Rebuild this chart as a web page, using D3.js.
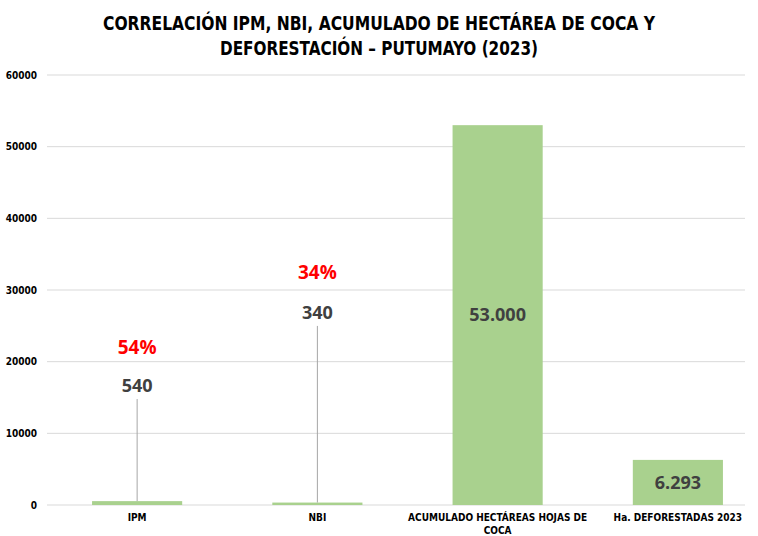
<!DOCTYPE html>
<html>
<head>
<meta charset="utf-8">
<script src="https://cdn.jsdelivr.net/npm/d3@7"></script>
<style>
  body { margin: 0; background: #fff; }
  svg text { font-family: "DejaVu Sans Condensed", "Open Sans", sans-serif; }
</style>
</head>
<body>
<div id="chart"></div>
<script>
// data
var categories = ["IPM", "NBI", "ACUMULADO HECTÁREAS HOJAS DE COCA", "Ha. DEFORESTADAS 2023"];
var values = [540, 340, 53000, 6293];
var valueLabels = ["540", "340", "53.000", "6.293"];
var percentLabels = ["54%", "34%", "", ""];
// where the callout labels sit, in axis units (0 = inside the bar)
var calloutAt = [16600, 26800, 0, 0];
var percentAt = [22000, 32500, 0, 0];
var yTicks = [0, 10000, 20000, 30000, 40000, 50000, 60000];

drawBarChart();
function drawBarChart(){
    var W = 758, H = 536;
    var margin = {top: 75, right: 0, bottom: 31, left: 47};
    var width = 768 - margin.left,
        height = H - margin.top - margin.bottom;

    var svg = d3.select("#chart")
      .append("svg")
        .attr("width", W)
        .attr("height", H);

    // title
    var title = svg.append("text")
        .attr("text-anchor", "middle")
        .attr("font-weight", "bold")
        .attr("font-size", 20)
        .attr("fill", "#000");
    title.append("tspan").attr("x", 379).attr("y", 30)
        .attr("textLength", 552).attr("lengthAdjust", "spacingAndGlyphs")
        .text("CORRELACIÓN IPM, NBI, ACUMULADO DE HECTÁREA DE COCA Y");
    title.append("tspan").attr("x", 379).attr("y", 55)
        .attr("textLength", 318).attr("lengthAdjust", "spacingAndGlyphs")
        .text("DEFORESTACIÓN – PUTUMAYO (2023)");

    var g = svg.append("g")
        .attr("transform", "translate(" + margin.left + "," + margin.top + ")");

    var x = d3.scaleBand()
        .domain(categories)
        .range([0, width])
        .paddingInner(0.5)
        .paddingOuter(0.25);

    var y = d3.scaleLinear()
        .domain([0, 60000])
        .range([height, 0]);

    // gridlines
    g.append("g")
        .selectAll("line")
        .data(yTicks)
        .enter()
        .append("line")
        .attr("x1", 0)
        .attr("x2", 745 - margin.left)
        .attr("y1", function(d){ return y(d); })
        .attr("y2", function(d){ return y(d); })
        .attr("stroke", "#d9d9d9")
        .attr("stroke-width", 1);

    // y axis
    var yAxis = g.append("g")
        .call(d3.axisLeft(y).tickValues(yTicks).tickSize(0).tickPadding(10).tickFormat(d3.format("d")));
    yAxis.select(".domain").remove();
    yAxis.selectAll("text")
        .attr("font-size", 10)
        .attr("font-weight", "bold")
        .attr("fill", "#000")
        .style("font-family", "\"DejaVu Sans Condensed\", sans-serif");

    // bars
    g.append("g")
        .selectAll("rect")
        .data(categories)
        .enter()
        .append("rect")
        .attr("x", function(d){ return x(d); })
        .attr("width", x.bandwidth())
        .attr("y", function(d, i){ return y(values[i]); })
        .attr("height", function(d, i){ return height - y(values[i]); })
        .attr("fill", "#a9d18e");

    // leader lines for the small bars
    g.append("g")
        .selectAll("line")
        .data(categories.filter(function(d, i){ return calloutAt[i] > 0; }))
        .enter()
        .append("line")
        .attr("x1", function(d){ return x(d) + x.bandwidth() / 2; })
        .attr("x2", function(d){ return x(d) + x.bandwidth() / 2; })
        .attr("y1", function(d){ var i = categories.indexOf(d); return y(calloutAt[i]) + 13; })
        .attr("y2", function(d){ var i = categories.indexOf(d); return y(values[i]); })
        .attr("stroke", "#a6a6a6")
        .attr("stroke-width", 1);

    // value labels
    g.append("g")
        .selectAll("text")
        .data(categories)
        .enter()
        .append("text")
        .attr("x", function(d){ return x(d) + x.bandwidth() / 2; })
        .attr("y", function(d, i){
            if (calloutAt[i] > 0) return y(calloutAt[i]);
            return (y(values[i]) + height) / 2;
        })
        .attr("dy", "0.35em")
        .attr("text-anchor", "middle")
        .attr("font-size", 18)
        .attr("font-weight", "bold")
        .attr("fill", "#404040")
        .style("font-family", "\"Open Sans\", sans-serif")
        .text(function(d, i){ return valueLabels[i]; });

    // percentage labels
    g.append("g")
        .selectAll("text")
        .data(categories.filter(function(d, i){ return percentLabels[i] !== ""; }))
        .enter()
        .append("text")
        .attr("x", function(d){ return x(d) + x.bandwidth() / 2; })
        .attr("y", function(d){ return y(percentAt[categories.indexOf(d)]); })
        .attr("dy", "0.35em")
        .attr("text-anchor", "middle")
        .attr("font-size", 19)
        .attr("font-weight", "bold")
        .attr("fill", "#ff0000")
        .style("font-family", "\"Open Sans\", sans-serif")
        .text(function(d){ return percentLabels[categories.indexOf(d)]; });

    // x labels
    var xl = g.append("g")
        .selectAll("text")
        .data(categories)
        .enter()
        .append("text")
        .attr("x", function(d){ return x(d) + x.bandwidth() / 2; })
        .attr("y", height + 16)
        .attr("text-anchor", "middle")
        .attr("font-size", 10)
        .attr("font-weight", "bold")
        .attr("fill", "#000");
    xl.each(function(d){
        var t = d3.select(this);
        var lines = d === "ACUMULADO HECTÁREAS HOJAS DE COCA" ? ["ACUMULADO HECTÁREAS HOJAS DE", "COCA"] : [d];
        lines.forEach(function(s, k){
            t.append("tspan")
                .attr("x", x(d) + x.bandwidth() / 2)
                .attr("dy", k === 0 ? 0 : 13)
                .text(s);
        });
    });
}
</script>
</body>
</html>
